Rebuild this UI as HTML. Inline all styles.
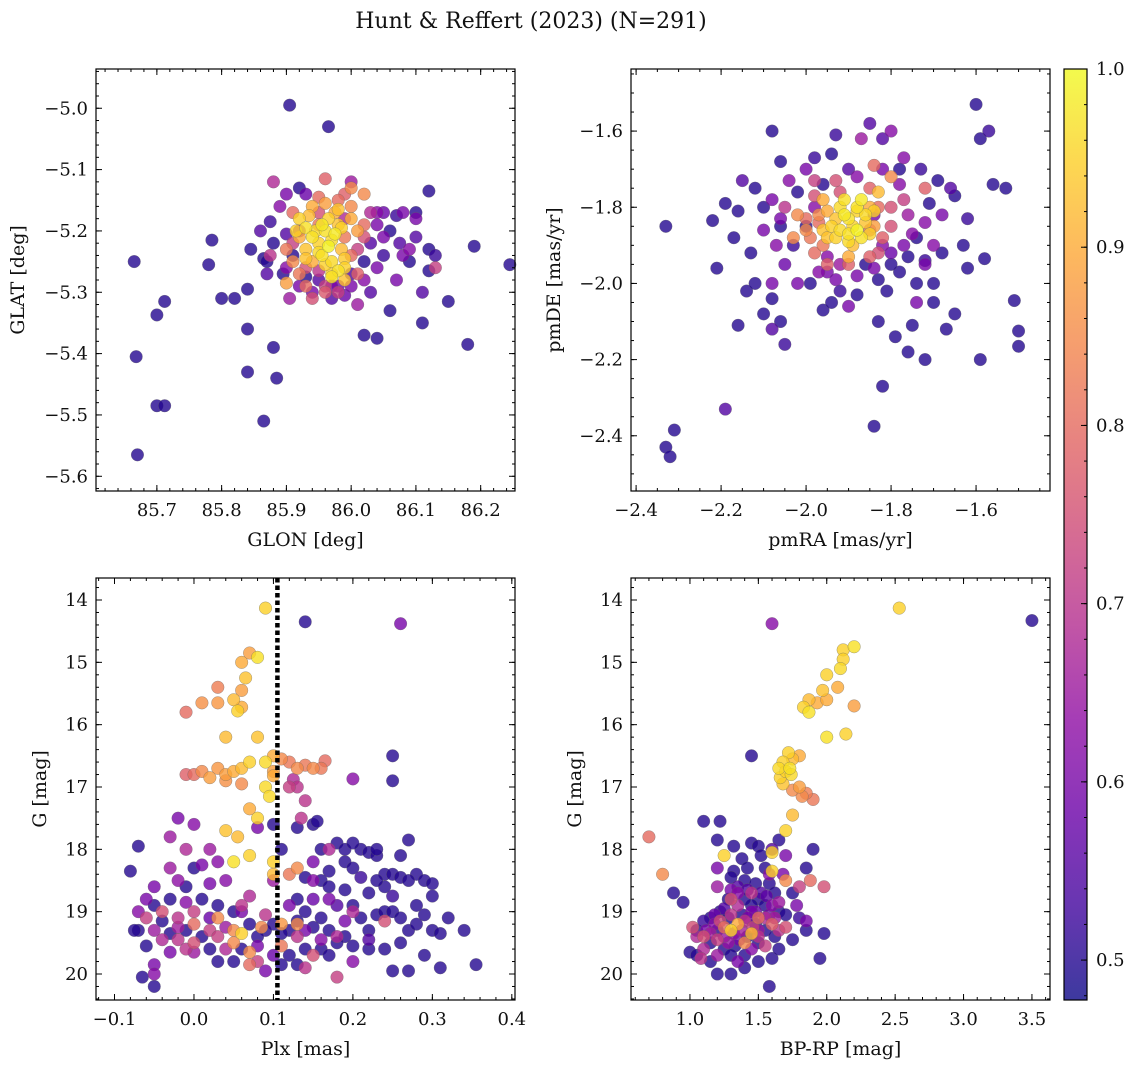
<!DOCTYPE html>
<html><head><meta charset="utf-8"><style>
body{margin:0;background:#fff;}
svg text{font-family:"DejaVu Serif","Liberation Serif",serif;fill:#111;}
</style></head><body>
<svg id="fig" width="1136" height="1068" xmlns="http://www.w3.org/2000/svg">
<text x="531" y="28" font-size="22" text-anchor="middle">Hunt &amp; Reffert (2023) (N=291)</text>
</svg>
<script>
// Panel 1: GLON, GLAT, prob
const p1Data=[[85.665,-5.25,.5],[85.668,-5.405,.5],[85.67,-5.565,.5],[85.70,-5.337,.5],[85.712,-5.315,.5],[85.70,-5.485,.5],[85.712,-5.485,.5],[85.78,-5.255,.5],[85.785,-5.215,.5],[85.80,-5.31,.5],[85.82,-5.31,.5],[85.84,-5.295,.5],[85.84,-5.36,.5],[85.84,-5.43,.5],[85.845,-5.23,.5],[85.865,-5.51,.5],[85.88,-5.39,.5],[85.885,-5.44,.5],[85.865,-5.245,.5],[85.905,-4.995,.5],[85.965,-5.03,.5],[86.18,-5.385,.5],[86.19,-5.225,.5],[86.245,-5.255,.5],[86.15,-5.315,.5],[86.11,-5.35,.5],[86.12,-5.265,.5],[86.12,-5.135,.5],[86.10,-5.17,.5],[86.07,-5.175,.52],[86.04,-5.375,.5],[86.02,-5.37,.5],[86.06,-5.33,.5],[86.03,-5.3,.55],[86.12,-5.23,.5],[86.09,-5.25,.5],[86.13,-5.24,.52],[86.075,-5.22,.55],[86.06,-5.2,.5],[86.05,-5.24,.52],[85.92,-5.13,.5],[85.88,-5.22,.5],[85.875,-5.185,.52],[85.87,-5.25,.5],[85.895,-5.27,.5],[85.9,-5.205,.55],[85.91,-5.24,.5],[85.93,-5.275,.5],[85.95,-5.28,.55],[85.98,-5.29,.6],[86.0,-5.27,.55],[86.02,-5.25,.5],[86.03,-5.22,.55],[86.04,-5.19,.6],[86.05,-5.17,.58],[86.08,-5.24,.6],[86.1,-5.21,.55],[85.94,-5.3,.6],[85.97,-5.31,.55],[85.88,-5.12,.68],[85.875,-5.24,.7],[85.905,-5.31,.65],[86.0,-5.12,.65],[86.03,-5.17,.68],[86.13,-5.26,.72],[86.01,-5.32,.65],[85.95,-5.265,.7],[85.92,-5.2,.65],[85.99,-5.18,.68],[86.01,-5.23,.72],[86.02,-5.21,.75],[85.93,-5.26,.75],[85.96,-5.29,.72],[85.91,-5.22,.72],[85.95,-5.17,.75],[85.98,-5.15,.8],[85.96,-5.115,.78],[86.02,-5.14,.85],[85.9,-5.285,.88],[85.96,-5.2,.97],[85.95,-5.22,.95],[85.98,-5.19,.93],[85.97,-5.25,.96],[85.99,-5.26,.95],[85.92,-5.18,.95],[85.94,-5.16,.9],[85.96,-5.155,.88],[86.0,-5.13,.85],[85.93,-5.23,.93],[85.975,-5.205,.98],[85.985,-5.23,.92],[86.01,-5.2,.88],[85.955,-5.24,.97],[85.945,-5.2,.96],[85.965,-5.18,.95],[85.94,-5.25,.9],[85.97,-5.27,.95],[85.98,-5.265,.97],[85.92,-5.21,.9],[86.0,-5.16,.85],[85.95,-5.19,.82],[85.99,-5.21,.82],[86.0,-5.24,.8],[85.91,-5.25,.85],[85.93,-5.195,.97],[85.965,-5.225,.99],[85.975,-5.17,.9],
[85.94,-5.21,.97],[85.955,-5.19,.98],[85.97,-5.215,.96],[85.985,-5.195,.95],[85.95,-5.235,.96],[85.93,-5.245,.93],[85.96,-5.255,.95],[85.99,-5.245,.94],[85.915,-5.2,.95],[85.935,-5.175,.92],[85.98,-5.165,.93],[86.0,-5.18,.9],[85.97,-5.275,.97],[85.99,-5.28,.93],
[85.92,-5.27,.82],[85.93,-5.29,.8],[85.9,-5.23,.82],[85.91,-5.17,.8],[85.95,-5.145,.8],[85.99,-5.14,.78],[86.02,-5.19,.8],[86.01,-5.27,.78],[85.96,-5.3,.77],[85.94,-5.31,.75],[85.98,-5.3,.72],
[85.9,-5.26,.62],[85.92,-5.29,.6],[85.97,-5.29,.6],[85.99,-5.305,.58],[86.0,-5.29,.6],[86.02,-5.28,.62],[86.04,-5.26,.6],[86.05,-5.21,.6],[86.04,-5.17,.62],[85.89,-5.16,.62],[85.9,-5.14,.6],[85.93,-5.14,.58],[86.08,-5.17,.6],[86.1,-5.18,.6],[86.09,-5.23,.62],[86.07,-5.28,.6],[85.86,-5.2,.55],[85.87,-5.27,.55],[86.11,-5.3,.55]];
// Panel 2: pmRA, pmDE, prob
const p2Data=[[-2.33,-1.85,.5],[-2.33,-2.43,.5],[-2.32,-2.455,.5],[-2.31,-2.385,.5],[-2.19,-2.33,.55],[-1.84,-2.375,.5],[-1.82,-2.27,.5],[-1.60,-1.53,.5],[-1.59,-1.62,.5],[-1.57,-1.60,.52],[-1.56,-1.74,.5],[-1.53,-1.75,.5],[-1.51,-2.045,.5],[-1.50,-2.125,.5],[-1.50,-2.165,.5],[-1.58,-1.935,.5],[-1.59,-2.2,.5],[-2.08,-1.60,.5],[-1.85,-1.58,.55],[-1.93,-1.61,.52],[-2.22,-1.835,.5],[-2.21,-1.96,.5],[-2.16,-1.81,.5],[-2.16,-2.11,.5],[-2.15,-1.73,.55],[-2.14,-2.02,.5],[-2.12,-2.0,.5],[-2.1,-2.08,.5],[-2.08,-2.12,.55],[-2.06,-2.1,.5],[-2.05,-2.16,.52],[-2.08,-2.04,.5],[-1.99,-2.0,.5],[-1.96,-2.07,.5],[-1.94,-2.05,.5],[-1.92,-2.02,.52],[-1.88,-2.03,.5],[-1.83,-2.1,.5],[-1.81,-2.02,.5],[-1.79,-2.14,.5],[-1.76,-2.18,.5],[-1.75,-2.11,.5],[-1.74,-2.0,.5],[-1.72,-2.2,.5],[-1.7,-2.05,.5],[-1.67,-2.12,.5],[-1.65,-2.08,.5],[-1.63,-1.9,.5],[-1.62,-1.96,.5],[-1.66,-1.75,.55],[-1.69,-1.73,.5],[-1.71,-1.79,.5],[-1.74,-1.88,.5],[-1.76,-1.93,.5],[-1.78,-1.97,.5],[-2.06,-1.68,.5],[-2.02,-1.76,.5],[-1.98,-1.67,.52],[-1.96,-1.74,.5],[-1.9,-1.7,.55],[-1.94,-1.66,.5],[-2.1,-1.8,.5],[-2.12,-1.75,.5],[-2.06,-1.85,.5],[-2.03,-1.9,.52],[-2.0,-1.85,.5],[-2.17,-1.88,.5],[-2.19,-1.79,.5],[-2.13,-1.92,.5],[-1.62,-1.83,.52],[-1.65,-1.77,.5],[-1.68,-1.92,.5],[-1.7,-2.0,.5],[-1.72,-1.94,.52],[-1.8,-1.95,.5],[-1.83,-1.99,.5],[-1.86,-1.95,.5],[-1.78,-1.7,.5],[-1.82,-1.62,.55],[-1.73,-1.7,.52],[-1.8,-1.6,.62],[-1.87,-1.62,.65],[-1.77,-1.67,.62],[-1.84,-1.82,.6],[-1.95,-1.93,.62],[-2.02,-2.0,.6],[-1.95,-1.97,.6],[-2.07,-1.9,.62],[-1.76,-1.82,.65],[-1.72,-1.84,.62],[-2.06,-1.83,.6],[-1.98,-1.8,.62],[-1.92,-1.95,.65],[-1.82,-1.9,.62],[-1.84,-1.69,.8],[-1.72,-1.75,.78],[-1.98,-1.77,.75],[-1.92,-1.76,.75],[-2.0,-1.83,.8],[-2.03,-1.88,.85],[-1.96,-1.9,.82],[-1.85,-1.86,.78],[-1.8,-1.8,.75],[-1.77,-1.78,.72],[-1.97,-1.84,.8],[-1.83,-1.92,.75],[-2.02,-1.82,.85],[-1.9,-1.83,.97],[-1.92,-1.8,.96],[-1.88,-1.81,.95],[-1.86,-1.84,.93],[-1.94,-1.85,.95],[-1.9,-1.87,.97],[-1.87,-1.78,.98],[-1.93,-1.88,.95],[-1.89,-1.9,.92],[-1.95,-1.81,.9],[-1.85,-1.8,.9],[-1.91,-1.78,.97],[-1.88,-1.86,.99],[-1.96,-1.86,.93],[-1.84,-1.85,.88],[-1.9,-1.93,.9],
[-1.88,-1.8,.97],[-1.91,-1.82,.98],[-1.86,-1.82,.96],[-1.89,-1.85,.95],[-1.92,-1.86,.96],[-1.87,-1.88,.97],[-1.85,-1.87,.95],[-1.93,-1.83,.93],[-1.84,-1.81,.95],[-1.9,-1.89,.96],[-1.95,-1.88,.93],[-1.96,-1.78,.9],[-1.83,-1.76,.92],
[-1.97,-1.82,.85],[-1.99,-1.88,.82],[-2.0,-1.86,.85],[-1.98,-1.92,.8],[-1.95,-1.95,.78],[-1.9,-1.95,.78],[-1.85,-1.93,.78],[-1.82,-1.88,.78],[-1.8,-1.85,.75],[-1.83,-1.8,.8],[-1.85,-1.75,.78],[-1.8,-1.72,.85],[-1.93,-1.73,.75],[-1.98,-1.73,.72],[-2.05,-1.8,.7],
[-1.97,-1.97,.62],[-1.93,-1.99,.6],[-1.88,-1.98,.6],[-1.84,-1.96,.6],[-1.8,-1.92,.58],[-1.77,-1.9,.6],[-1.75,-1.87,.62],[-1.78,-1.74,.62],[-1.82,-1.7,.6],[-1.88,-1.72,.62],[-2.0,-1.7,.6],[-2.04,-1.73,.62],[-2.08,-1.78,.6],[-2.1,-1.86,.6],[-2.05,-1.95,.58],[-1.72,-1.95,.6],[-1.7,-1.9,.62],[-1.68,-1.82,.6],[-1.74,-2.05,.6],[-1.9,-2.06,.6],[-2.08,-2.0,.6]];
// Panel 3: Plx, G, prob
const p3Data=[[0.09,14.13,.95],[0.07,14.85,.88],[0.08,14.92,.97],[0.06,15.0,.9],[0.065,15.25,.93],[0.06,15.45,.88],[0.03,15.4,.83],[0.05,15.6,.92],[0.055,15.78,.95],[-0.01,15.8,.8],[0.01,15.65,.86],[0.03,15.65,.87],[0.06,15.72,.9],[0.08,16.2,.93],[0.04,16.2,.92],[0.1,16.5,.9],[0.11,16.55,.85],[0.12,16.6,.82],[0.14,16.65,.82],[0.13,16.7,.85],[0.15,16.7,.85],[0.16,16.7,.82],[0.165,16.58,.8],[0.09,16.6,.96],[0.1,16.75,.88],[0.09,17.0,.96],[0.1,16.82,.9],[0.095,17.15,.96],[0.07,16.6,.95],[0.06,16.7,.92],[0.05,16.75,.9],[0.04,16.8,.88],[0.03,16.7,.87],[0.01,16.75,.85],[0.0,16.8,.8],[-0.01,16.8,.78],[0.02,16.85,.88],[0.04,16.9,.86],[0.06,16.95,.85],[0.07,17.35,.9],[0.08,17.5,.95],[0.04,17.7,.93],[0.055,17.8,.92],[0.07,18.1,.95],[0.05,18.2,.97],[0.1,18.2,.95],[0.12,18.4,.82],[0.13,18.3,.85],[0.03,19.1,.85],[0.05,19.3,.85],[0.05,19.5,.85],[0.06,19.35,.95],[0.11,19.2,.87],[0.13,19.2,.85],[0.11,19.55,.82],[0.07,19.65,.85],[0.07,19.85,.8],[0.0,19.2,.8],[0.085,19.25,.85],[0.1,18.4,.92],
[0.13,17.0,.7],[0.125,16.88,.68],[0.12,17.0,.72],[0.14,17.22,.7],[0.135,17.5,.7],[0.2,16.87,.62],[-0.02,17.5,.6],[0.0,17.6,.62],[-0.03,17.8,.65],[-0.01,18.0,.68],[0.02,18.0,.65],[0.01,18.25,.6],[0.03,18.2,.62],[-0.03,18.3,.65],[-0.05,18.6,.6],[-0.02,18.5,.63],[0.02,18.55,.6],[0.04,18.5,.62],[0.08,17.65,.6],[0.1,18.5,.65],[0.15,18.5,.62],[0.15,18.2,.6],[0.17,18.8,.6],[0.2,19.0,.68],[0.18,19.4,.68],[0.15,19.7,.75],[0.13,19.4,.7],[0.09,19.05,.7],[0.06,18.9,.7],[0.0,19.0,.72],[-0.02,19.1,.7],[-0.04,19.0,.75],[-0.06,19.1,.72],[-0.05,19.3,.65],[-0.04,19.45,.68],[-0.02,19.45,.7],[0.0,19.5,.75],[0.02,19.3,.72],[0.0,19.65,.65],[-0.01,19.6,.7],[-0.03,19.65,.6],[0.04,19.6,.68],[0.08,19.8,.72],[0.09,19.95,.6],[0.14,19.9,.7],[0.18,20.05,.72],[0.24,19.15,.75],[0.2,19.8,.62],[0.17,18.0,.68],[0.26,14.38,.6],[-0.05,19.85,.6],[-0.05,20.0,.62],[-0.06,18.8,.6],[-0.07,19.0,.62],[0.03,19.4,.72],[0.06,19.0,.6],
[0.14,14.35,.5],[0.25,16.5,.5],[0.25,16.9,.5],[-0.08,18.35,.5],[-0.07,19.3,.5],[-0.075,19.3,.5],[-0.07,17.95,.5],[-0.065,20.05,.5],[-0.05,20.2,.5],[-0.06,19.55,.5],[0.0,18.3,.5],[0.1,17.6,.5],[0.11,18.0,.5],[0.13,17.65,.5],[0.15,17.6,.5],[0.155,17.55,.5],[0.16,18.5,.5],[0.17,18.35,.5],[0.18,17.9,.5],[0.19,18.2,.5],[0.19,18.0,.5],[0.2,18.3,.5],[0.21,18.0,.5],[0.22,18.05,.5],[0.23,18.1,.5],[0.23,18.0,.5],[0.24,18.4,.5],[0.25,18.4,.5],[0.26,18.1,.5],[0.27,17.85,.5],[0.28,18.4,.5],[0.29,18.5,.5],[0.26,18.45,.5],[0.27,18.5,.5],[0.3,18.55,.5],[0.24,18.6,.5],[0.22,18.7,.5],[0.2,18.9,.5],[0.21,19.1,.5],[0.22,19.3,.5],[0.23,19.05,.5],[0.24,19.0,.5],[0.25,19.0,.5],[0.26,19.1,.5],[0.27,19.3,.5],[0.28,19.2,.5],[0.29,19.05,.5],[0.3,19.3,.5],[0.31,19.35,.5],[0.32,19.1,.5],[0.34,19.3,.5],[0.355,19.85,.5],[0.31,19.9,.5],[0.29,19.7,.5],[0.27,19.95,.5],[0.25,19.95,.5],[0.24,19.6,.5],[0.22,19.6,.5],[0.2,19.55,.5],[0.19,19.4,.5],[0.17,19.3,.5],[0.16,19.1,.5],[0.15,19.25,.5],[0.14,19.0,.5],[0.13,19.15,.5],[0.12,19.3,.5],[0.11,19.35,.5],[0.1,19.2,.5],[0.09,19.3,.5],[0.08,19.4,.5],[0.07,19.2,.5],[0.06,19.6,.5],[0.05,19.8,.5],[0.03,19.8,.5],[0.02,19.6,.5],[0.01,19.4,.5],[-0.01,19.3,.5],[-0.03,19.35,.5],[-0.04,19.15,.5],[-0.05,18.9,.5],[-0.03,18.8,.5],[-0.01,18.6,.5],[0.01,18.8,.5],[0.03,18.9,.5],[0.05,19.0,.5],[0.16,19.6,.5],[0.17,19.7,.5],[0.18,19.5,.5],[0.14,19.6,.5],[0.12,19.7,.5],[0.11,19.85,.5],[0.13,19.85,.5],[0.19,18.65,.5],[0.17,18.6,.5],[0.16,18.0,.5],[0.14,18.45,.5],[0.13,18.8,.5],[0.2,17.9,.5],
[0.21,18.45,.52],[0.23,18.5,.5],[0.25,18.75,.52],[0.28,18.9,.5],[0.3,18.75,.5],[0.22,19.45,.55],[0.26,19.5,.5],[0.18,18.9,.55],[0.15,18.8,.58],[0.12,18.9,.6],[0.02,19.1,.58],[-0.01,18.85,.62],[0.04,19.25,.65],[0.08,19.55,.6],[0.1,19.7,.58],[0.19,19.15,.6],[0.16,19.45,.62],[0.07,18.75,.68],[-0.02,19.25,.66],[0.14,19.3,.6]];
// Panel 4: BP-RP, G, prob
const p4Data=[[2.53,14.13,.95],[2.2,14.75,.97],[2.12,14.8,.95],[2.12,14.95,.95],[2.1,15.1,.96],[2.08,15.4,.9],[2.0,15.2,.95],[1.97,15.45,.93],[1.87,15.6,.92],[1.87,15.8,.97],[1.83,15.72,.95],[1.93,15.65,.9],[2.2,15.7,.88],[2.0,15.6,.9],[2.0,16.2,.97],[2.14,16.15,.95],[1.72,16.45,.95],[1.8,16.5,.9],[1.75,16.55,.92],[1.68,16.6,.95],[1.65,16.7,.96],[1.66,16.85,.95],[1.7,16.75,.95],[1.73,16.7,.97],[1.74,16.8,.96],[1.68,16.95,.93],[1.8,17.0,.88],[1.82,17.15,.85],[1.85,17.1,.83],[1.9,17.2,.82],[1.75,17.05,.85],[1.75,17.45,.92],[1.7,17.7,.95],[1.6,18.05,.95],[1.25,18.1,.95],[1.6,18.35,.95],[1.7,18.5,.85],[1.88,18.5,.8],[1.98,18.6,.75],[1.8,18.6,.72],[0.7,17.8,.8],[0.8,18.4,.85],[1.3,19.3,.95],[1.45,19.35,.92],[1.4,19.5,.85],[1.25,19.25,.8],[1.35,19.2,.9],[1.02,19.25,.75],[1.1,19.4,.75],[1.5,19.1,.8],[1.6,19.2,.78],[1.7,19.25,.75],[1.55,19.55,.72],[1.3,18.8,.75],[1.45,18.7,.7],[1.2,18.6,.65],[1.35,18.9,.68],
[3.5,14.33,.5],[1.6,14.38,.62],[1.45,16.5,.5],[1.1,17.55,.5],[1.22,17.55,.5],[1.2,17.85,.5],[1.32,17.95,.5],[1.45,17.9,.5],[1.5,17.95,.5],[1.38,18.15,.5],[1.42,18.3,.5],[1.52,18.1,.5],[1.65,17.85,.5],[1.6,18.0,.55],[1.55,18.3,.5],[1.32,18.35,.5],[1.4,18.5,.5],[1.48,18.55,.5],[1.58,18.55,.5],[1.62,18.7,.5],[1.5,18.8,.5],[1.45,18.9,.5],[1.35,18.6,.55],[1.28,18.8,.5],[1.22,19.0,.5],[1.15,19.1,.5],[1.1,19.15,.52],[1.05,19.3,.5],[0.88,18.7,.5],[0.95,18.85,.5],[1.0,19.65,.5],[1.05,19.7,.5],[1.15,19.8,.5],[1.2,20.0,.5],[1.3,20.0,.5],[1.4,19.9,.5],[1.5,19.8,.5],[1.6,19.75,.5],[1.58,20.2,.5],[1.65,19.6,.5],[1.75,19.45,.5],[1.85,19.3,.5],[1.95,19.75,.5],[1.98,19.35,.5],[1.8,19.1,.52],[1.9,18.0,.5],[1.85,18.3,.5],[1.75,18.7,.5],[1.65,19.0,.5],[1.55,19.3,.5],[1.48,19.2,.5],[1.38,19.05,.5],[1.42,19.4,.5],[1.33,19.55,.5],[1.25,19.6,.5],[1.15,19.5,.5],[1.2,19.3,.5],[1.28,19.1,.5],[1.3,19.7,.5],[1.4,19.7,.5],[1.5,19.5,.5],[1.62,19.4,.5],[1.7,19.05,.5],[1.55,18.9,.5],[1.4,18.8,.5],[1.3,18.45,.5],
[1.2,18.3,.6],[1.35,18.7,.62],[1.45,19.0,.6],[1.25,19.4,.65],[1.18,19.2,.62],[1.1,19.6,.68],[1.2,19.7,.65],[1.35,19.8,.6],[1.45,19.6,.62],[1.5,19.3,.65],[1.6,18.9,.62],[1.55,19.1,.68],[1.65,18.85,.65],[1.68,18.4,.6],[1.7,18.1,.6],[1.58,18.4,.62],[1.78,18.9,.6],[1.85,19.15,.6],[1.3,19.05,.7],[1.4,19.15,.7],[1.5,19.4,.7],[1.65,19.3,.7],[1.2,19.45,.72],[1.05,19.4,.68],[1.08,19.75,.7],
[1.12,19.3,.6],[1.18,19.05,.58],[1.25,18.95,.55],[1.32,19.35,.62],[1.38,19.3,.66],[1.42,19.1,.6],[1.48,19.0,.58],[1.52,18.7,.55],[1.58,19.05,.6],[1.62,19.1,.66],[1.28,19.5,.64],[1.36,19.45,.6],[1.15,19.35,.66],[1.22,19.15,.74],[1.46,19.25,.72],[1.56,18.75,.56],[1.42,18.65,.55],[1.3,18.65,.6]];
const p1XTicks=[85.7,85.8,85.9,86.0,86.1,86.2];
const p1YTicks=[-5.0,-5.1,-5.2,-5.3,-5.4,-5.5,-5.6];
const p2XTicks=[-2.4,-2.2,-2.0,-1.8,-1.6];
const p2YTicks=[-1.6,-1.8,-2.0,-2.2,-2.4];
const p3XTicks=[-0.1,0.0,0.1,0.2,0.3,0.4];
const gTicks=[14,15,16,17,18,19,20];
const p4XTicks=[1.0,1.5,2.0,2.5,3.0,3.5];
const cbTicks=[0.5,0.6,0.7,0.8,0.9,1.0];
const plxCut=0.105;

const NS="http://www.w3.org/2000/svg";
const svg=document.getElementById('fig');
function mk(tag,attrs,parent){const e=document.createElementNS(NS,tag);for(const k in attrs)e.setAttribute(k,attrs[k]);(parent||svg).appendChild(e);return e;}
const VMIN=0.4776,VMAX=1.0;
const stops=["#0d0887","#41049d","#6a00a8","#8f0da4","#b12a90","#cc4778","#e16462","#f2844b","#fca636","#fcce25","#f0f921"];
function hex(h){return [1,3,5].map(i=>parseInt(h.substr(i,2),16));}
function cmapRaw(t){t=Math.max(0,Math.min(1,t));const f=t*10,i=Math.min(9,Math.floor(f)),u=f-i;const a=hex(stops[i]),b=hex(stops[i+1]);return a.map((v,k)=>Math.round(v+(b[k]-v)*u));}
function cmap(t){const c=cmapRaw(t);return `rgb(${c[0]},${c[1]},${c[2]})`;}
function cmapW(t){const c=cmapRaw(t).map(v=>Math.round(v*0.8+255*0.2));return `rgb(${c[0]},${c[1]},${c[2]})`;}
function fmt(v,d){const s=v.toFixed(d);return s.startsWith('-')?'\u2212'+s.slice(1):s;}

function panel(o){
  const g=mk('g',{});
  
  
  const X=v=>o.x0+(v-o.xmin)/(o.xmax-o.xmin)*(o.x1-o.x0);
  const Y=v=>o.y0+(o.ymax-v)/(o.ymax-o.ymin)*(o.y1-o.y0);
  const pts=o.data.slice().sort((a,b)=>a[2]-b[2]);
  for(const d of pts){
    const c=mk('circle',{cx:X(d[0]),cy:Y(d[1]),r:6.3,fill:cmap((d[2]-VMIN)/(VMAX-VMIN)),'fill-opacity':0.8,stroke:'#666','stroke-opacity':0.6,'stroke-width':0.5},g);
    
    
  }
  if(o.vline!==undefined){
    const l=mk('line',{x1:X(o.vline),x2:X(o.vline),y1:o.y0,y2:o.y1,stroke:'#000','stroke-width':4.5,'stroke-dasharray':'4.5 3'},g);
    
    
  }
  const fr=mk('rect',{x:o.x0,y:o.y0,width:o.x1-o.x0,height:o.y1-o.y0,fill:'none',stroke:'#000','stroke-width':1.2},g);
  
  
  const xs=o.xt[1]-o.xt[0], ys=o.yt[1]-o.yt[0];
  const mx=xs/o.xminor, my=Math.abs(ys)/o.yminor;
  const lo=Math.min(o.ymin,o.ymax),hi=Math.max(o.ymin,o.ymax);
  for(let v=Math.ceil(o.xmin/mx)*mx;v<=o.xmax+1e-9;v+=mx){const x=X(v);mk('line',{x1:x,x2:x,y1:o.y1,y2:o.y1-3,stroke:'#000'},g);mk('line',{x1:x,x2:x,y1:o.y0,y2:o.y0+3,stroke:'#000'},g);}
  for(let v=Math.ceil(lo/my)*my;v<=hi+1e-9;v+=my){const y=Y(v);mk('line',{x1:o.x0,x2:o.x0+3,y1:y,y2:y,stroke:'#000'},g);mk('line',{x1:o.x1,x2:o.x1-3,y1:y,y2:y,stroke:'#000'},g);}
  for(const v of o.xt){const x=X(v);mk('line',{x1:x,x2:x,y1:o.y1,y2:o.y1-6,stroke:'#000'},g);mk('line',{x1:x,x2:x,y1:o.y0,y2:o.y0+6,stroke:'#000'},g);
    const t=mk('text',{x:x,y:o.y1+25,'font-size':18,'text-anchor':'middle'},g);t.textContent=fmt(v,o.xd);
    }
  for(const v of o.yt){const y=Y(v);mk('line',{x1:o.x0,x2:o.x0+6,y1:y,y2:y,stroke:'#000'},g);mk('line',{x1:o.x1,x2:o.x1-6,y1:y,y2:y,stroke:'#000'},g);
    const t=mk('text',{x:o.x0-8,y:y+6,'font-size':18,'text-anchor':'end'},g);t.textContent=fmt(v,o.yd);
    }
  const xl=mk('text',{x:(o.x0+o.x1)/2,y:o.y1+55,'font-size':19,'text-anchor':'middle'},g);xl.textContent=o.xlab;
  
  const yl=mk('text',{x:0,y:0,'font-size':19,'text-anchor':'middle',transform:`translate(${o.ylx},${(o.y0+o.y1)/2}) rotate(-90)`},g);yl.textContent=o.ylab;
  
}
panel({name:'glon-glat-panel',data:p1Data,x0:96,x1:515,y0:69,y1:491,xmin:85.606,xmax:86.253,ymin:-5.624,ymax:-4.936,xt:p1XTicks,yt:p1YTicks,xd:1,yd:1,xminor:5,yminor:5,xlab:'GLON [deg]',ylab:'GLAT [deg]',ylx:24});
panel({name:'proper-motion-panel',data:p2Data,x0:631,x1:1050,y0:69,y1:491,xmin:-2.412,xmax:-1.426,ymin:-2.545,ymax:-1.437,xt:p2XTicks,yt:p2YTicks,xd:1,yd:1,xminor:4,yminor:4,xlab:'pmRA [mas/yr]',ylab:'pmDE [mas/yr]',ylx:560});
panel({name:'parallax-magnitude-panel',data:p3Data,x0:96,x1:515,y0:578,y1:1000,xmin:-0.1233,xmax:0.404,ymin:20.417,ymax:13.647,xt:p3XTicks,yt:gTicks,xd:1,yd:0,xminor:5,yminor:5,xlab:'Plx [mas]',ylab:'G [mag]',ylx:46,vline:plxCut});
panel({name:'color-magnitude-panel',data:p4Data,x0:631,x1:1050,y0:578,y1:1000,xmin:0.569,xmax:3.632,ymin:20.417,ymax:13.647,xt:p4XTicks,yt:gTicks,xd:1,yd:0,xminor:5,yminor:5,xlab:'BP-RP [mag]',ylab:'G [mag]',ylx:581});

const cb=mk('g',{});


const defs=mk('defs',{},cb);
const lg=mk('linearGradient',{id:'cbg',x1:0,y1:1,x2:0,y2:0},defs);
for(let i=0;i<=20;i++){const t=i/20;mk('stop',{offset:t,'stop-color':cmapW(t)},lg);}
const CY0=69,CY1=1000,CX0=1064,CX1=1087;
mk('rect',{x:CX0,y:CY0,width:CX1-CX0,height:CY1-CY0,fill:'url(#cbg)',stroke:'#000','stroke-width':1.2},cb);
const CYf=v=>CY1-(v-VMIN)/(VMAX-VMIN)*(CY1-CY0);
for(let v=0.48;v<=1.0001;v+=0.02){const y=CYf(v);mk('line',{x1:CX1,x2:CX1-3,y1:y,y2:y,stroke:'#000'},cb);}
for(const v of cbTicks){const y=CYf(v);mk('line',{x1:CX1,x2:CX1-6,y1:y,y2:y,stroke:'#000'},cb);
  const t=mk('text',{x:CX1+9,y:y+6,'font-size':18},cb);t.textContent=v.toFixed(1);
  }
</script>
</body></html>
